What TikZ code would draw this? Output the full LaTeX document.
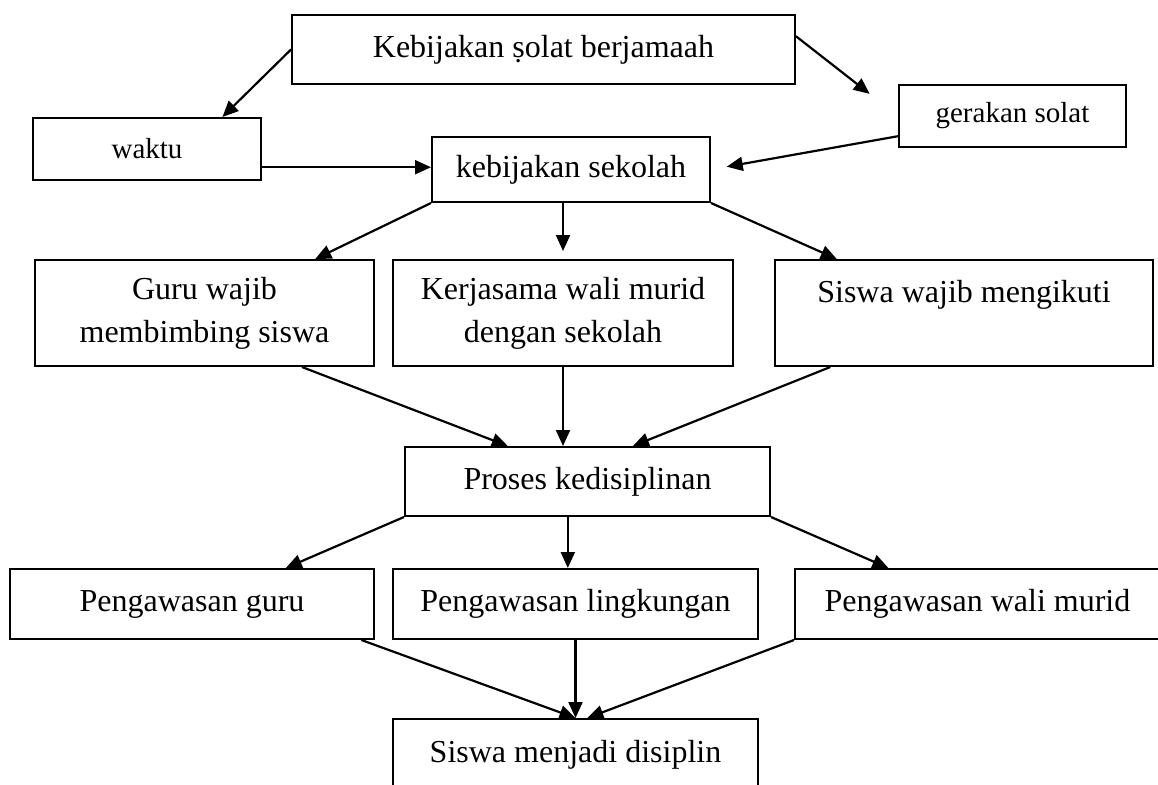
\documentclass[tikz,border=0pt]{standalone}
\usepackage{fontspec}
\setmainfont{Liberation Serif}
\usetikzlibrary{arrows.meta}

\begin{document}
\begin{tikzpicture}[x=1pt, y=-1pt,
    kotak/.style={draw, line width=2pt, inner sep=0pt, align=center, font=\fontsize{32}{43}\selectfont},
    kecil/.style={font=\fontsize{29}{34}\selectfont},
    panah/.style={line width=2.2pt, -{Triangle[length=16pt,width=14pt]}}]
  \useasboundingbox (0,0) rectangle (1158,784);
  \clip (0,0) rectangle (1158,784);

  \node[kotak, minimum width=503pt, minimum height=69pt] (kebijakan) at (543.5,49.5) {Kebijakan ṣolat berjamaah};
  \node[kotak, kecil, minimum width=228pt, minimum height=62pt] (waktu) at (147,149) {waktu};
  \node[kotak, kecil, minimum width=227pt, minimum height=62pt] (gerakan) at (1012.5,116) {gerakan solat};
  \node[kotak, minimum width=278pt, minimum height=65pt] (sekolah) at (571,169.5) {kebijakan sekolah};

  \node[kotak, minimum width=339pt, minimum height=106pt] (guru) at (204.5,313) {Guru wajib\\membimbing siswa};
  \node[kotak, minimum width=340pt, minimum height=106pt] (kerjasama) at (563,313) {Kerjasama wali murid\\dengan sekolah};
  \node[kotak, minimum width=378pt, minimum height=106pt] (siswa) at (964,313) {Siswa wajib mengikuti\\ \mbox{}};

  \node[kotak, minimum width=365pt, minimum height=69pt] (proses) at (587.5,481.5) {Proses kedisiplinan};

  \node[kotak, minimum width=364pt, minimum height=70pt] (pguru) at (192,604) {Pengawasan guru};
  \node[kotak, minimum width=365pt, minimum height=70pt] (pling) at (575.5,604) {Pengawasan lingkungan};
  \node[kotak, minimum width=365pt, minimum height=70pt] (pwali) at (977.5,604) {Pengawasan wali murid};

  \node[kotak, minimum width=365pt, minimum height=71pt] (disiplin) at (575.5,754.5) {Siswa menjadi disiplin};

  \draw[panah] (kebijakan.west) -- (waktu.23);
  \draw[panah, shorten >=36pt] (kebijakan.3) -- (gerakan.west);
  \draw[panah] (waktu.351.5) -- (waktu.351.5 -| sekolah.west);
  \draw[panah, shorten >=16pt] (gerakan.190) -- (sekolah.east);

  \draw[panah] (sekolah.south west) -- (guru.26.7);
  \draw[panah, shorten >=8pt] (sekolah.south -| kerjasama.north) -- (kerjasama.north);
  \draw[panah] (sekolah.south east) -- (siswa.157.7);

  \draw[panah] (guru.331.7) -- (proses.156);
  \draw[panah] (kerjasama.south) -- (kerjasama.south |- proses.north);
  \draw[panah] (siswa.202.8) -- (proses.38.4);

  \draw[panah] (proses.south west) -- (pguru.21.5);
  \draw[panah] (proses.241.8) -- (proses.241.8 |- pling.north);
  \draw[panah] (proses.south east) -- (pwali.158);

  \draw[panah] (pguru.348.4) -- (disiplin.north);
  \draw[panah] (pling.south) -- (disiplin.north);
  \draw[panah] (pwali.south west) -- (disiplin.72);
\end{tikzpicture}
\end{document}
